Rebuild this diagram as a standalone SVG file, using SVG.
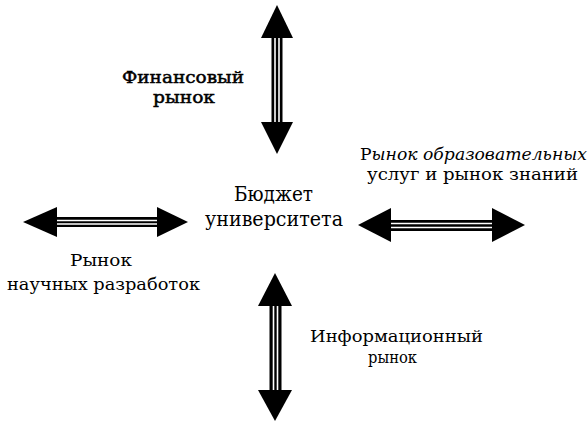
<svg xmlns="http://www.w3.org/2000/svg" width="588" height="422" viewBox="0 0 588 422">
<style>
.t{font-family:"DejaVu Serif","Liberation Serif",serif;fill:#000;}
.b{stroke:#000;stroke-width:0.5;}
.hd{fill:#000;}
.sh{fill:#000;}
.gap{stroke:#fff;stroke-width:1.6;}
</style>
<rect width="588" height="422" fill="#fff"/>
<g id="connectors">
  <g id="arrow-top">
    <rect class="sh" x="271.5" y="36" width="11" height="88"/>
    <line class="gap" x1="275" y1="36" x2="275" y2="124"/>
    <line class="gap" x1="279" y1="36" x2="279" y2="124"/>
    <polygon class="hd" points="277,5 293,38 261,38"/>
    <polygon class="hd" points="261,122 293,122 277,154"/>
  </g>
  <g id="arrow-right">
    <rect class="sh" x="388" y="220" width="106" height="11"/>
    <line class="gap" x1="388" y1="223.5" x2="494" y2="223.5"/>
    <line class="gap" x1="388" y1="227.5" x2="494" y2="227.5"/>
    <polygon class="hd" points="358,225 391,208 391,242"/>
    <polygon class="hd" points="492,208 492,242 525,225"/>
  </g>
  <g id="arrow-left">
    <rect class="sh" x="55" y="217" width="104" height="10"/>
    <line class="gap" x1="55" y1="220.5" x2="159" y2="220.5"/>
    <line class="gap" x1="55" y1="224" x2="159" y2="224"/>
    <polygon class="hd" points="23,222 57,207 57,237"/>
    <polygon class="hd" points="157,207 157,237 188,222"/>
  </g>
  <g id="arrow-bottom">
    <rect class="sh" x="269.5" y="303" width="12" height="89"/>
    <line class="gap" x1="273.5" y1="303" x2="273.5" y2="392"/>
    <line class="gap" x1="277.5" y1="303" x2="277.5" y2="392"/>
    <polygon class="hd" points="275,273 292,306 258,306"/>
    <polygon class="hd" points="258,390 292,390 275,421"/>
  </g>
</g>
<g id="node-budget">
  <text class="t" x="234" y="201" font-size="21" textLength="79" lengthAdjust="spacingAndGlyphs">Бюджет</text>
  <text class="t" x="205" y="226" font-size="21" textLength="138" lengthAdjust="spacingAndGlyphs">университета</text>
</g>
<g id="node-finance">
  <text class="t b" x="122" y="83" font-size="17.5" textLength="122" lengthAdjust="spacingAndGlyphs">Финансовый</text>
  <text class="t b" x="153" y="103" font-size="17.5" textLength="62" lengthAdjust="spacingAndGlyphs">рынок</text>
</g>
<g id="node-education">
  <text class="t" x="360" y="160" font-size="17" textLength="227" lengthAdjust="spacingAndGlyphs"><tspan>Р</tspan><tspan font-style="italic">ынок образовательных</tspan></text>
  <text class="t" x="367" y="180" font-size="17" textLength="211" lengthAdjust="spacingAndGlyphs">услуг и рынок знаний</text>
</g>
<g id="node-research">
  <text class="t" x="70" y="266" font-size="17" textLength="62" lengthAdjust="spacingAndGlyphs">Рынок</text>
  <text class="t" x="7" y="290" font-size="17" textLength="193" lengthAdjust="spacingAndGlyphs">научных разработок</text>
</g>
<g id="node-info">
  <text class="t" x="310" y="342" font-size="17" textLength="173" lengthAdjust="spacingAndGlyphs">Информационный</text>
  <text class="t" x="368" y="363" font-size="17" textLength="49" lengthAdjust="spacingAndGlyphs">рынок</text>
</g>
</svg>
